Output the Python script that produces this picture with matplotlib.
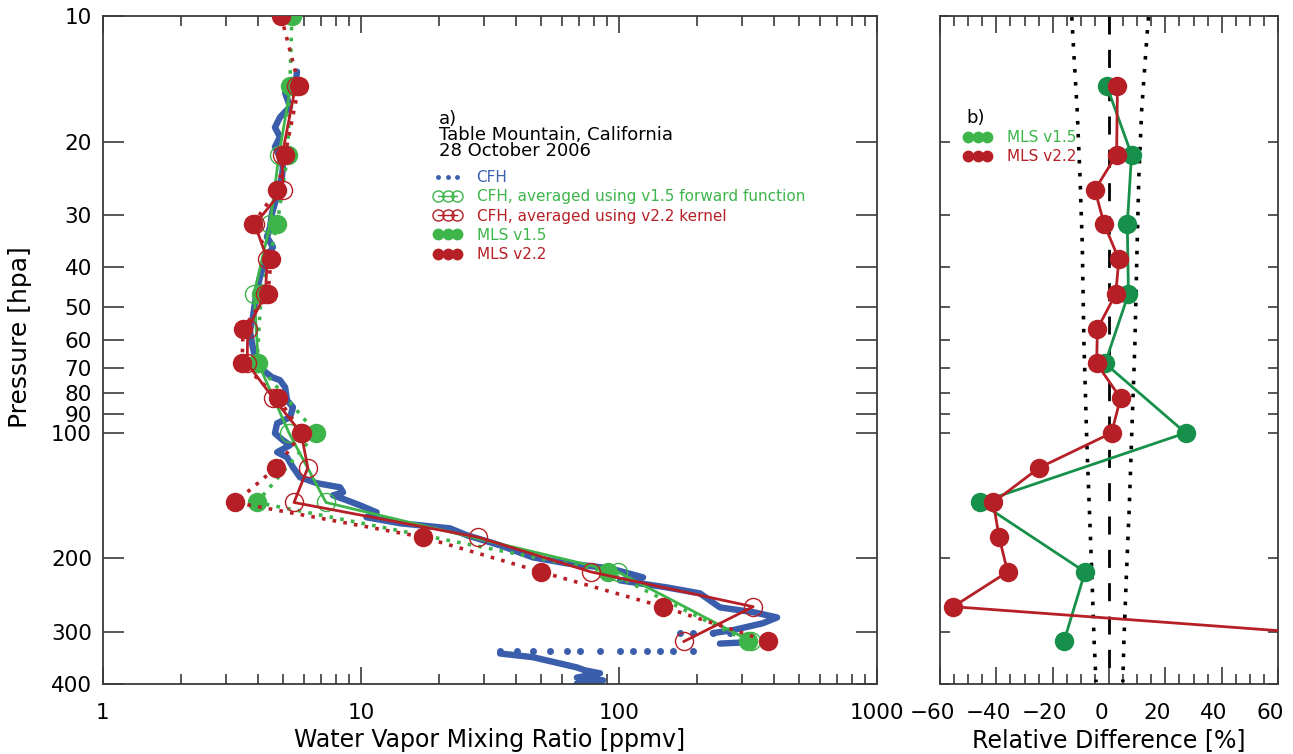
import numpy as np
import matplotlib
matplotlib.use("Agg")
import matplotlib.pyplot as plt
import matplotlib.transforms as mtransforms
from matplotlib.lines import Line2D
from matplotlib.ticker import FixedLocator, FixedFormatter, LogLocator, NullFormatter, MultipleLocator

# ---------------- data ----------------
# CFH profile (dense band), ppmv vs hPa
cfh_x = [5.65, 5.55, 5.08, 5.31, 4.85, 4.64, 4.85, 4.64, 4.85, 4.98, 4.94, 4.77, 4.64, 4.52,
         4.44, 4.32, 4.56, 4.32, 4.17, 4.06, 3.95, 3.88, 3.81, 3.71, 3.78, 3.88, 4.17, 4.52,
         4.85, 5.08, 5.17, 5.45, 5.31, 4.73, 4.64, 4.98, 5.31, 4.73, 5.17, 5.45, 5.80, 6.75,
         8.29, 8.52, 7.79, 8.83, 9.91, 11.5, 10.5, 14.2, 22.1, 25.8, 34.6, 46.4, 62.9, 92.3,
         124, 100.9, 153, 206, 246, 331, 410, 361, 277, 231]
cfh_p = [13.6, 14.8, 15.3, 16.5, 17.5, 18.5, 19.5, 20.6, 21.8, 23.0, 24.3, 26.2, 28.1, 29.7,
         32.1, 33.9, 35.8, 37.9, 40.0, 42.3, 45.5, 48.8, 52.8, 56.7, 60.9, 65.8, 70.7, 73.5,
         74.7, 77.7, 83.5, 86.8, 91.7, 94.8, 100.2, 104.1, 107.0, 111.2, 114.4, 120.9, 127.7, 132.0,
         135.0, 138.8, 141.1, 145.1, 149.1, 155.0, 159.3, 164.7, 169.3, 176.0, 186.0, 198.8, 205.5, 211.2,
         222, 225.7, 234.6, 242.5, 262, 269, 277, 286, 297, 302]
cfh2_x = [246, 302, 331]
cfh2_p = [320, 318, 323]
cfh3_x = [34.6, 46.4, 68.7, 73.8, 84.4, 68.7, 86.7, 68.7]
cfh3_p = [338, 345, 365, 371, 377, 386, 392, 399]
# CFH sparse samples
cfh_sparse_x = [172, 194, 231, 269,
                194, 162, 144, 128, 113, 100.9, 84.4, 70.6, 62.9, 54.0, 46.4, 40.2, 34.6]
cfh_sparse_p = [301, 301, 301, 301,
                334, 334, 334, 334, 334, 334, 334, 334, 334, 334, 334, 334, 334]

# MLS v2.2 and CFH averaged with v2.2 kernel
p22 = [10, 14.7, 21.5, 26.1, 31.6, 38.3, 46.4, 56.2, 68.1, 82.5, 100, 121.2, 146.8, 177.8, 215.4, 261, 316.2]
mls22 = [4.9, 5.75, 5.08, 4.73, 3.81, 4.48, 4.36, 3.49, 3.46, 4.76, 5.91, 4.68, 3.25, 17.4, 49.9, 148, 378]
p22c = [14.7, 21.5, 26.1, 31.6, 38.3, 46.4, 56.2, 68.1, 82.5, 100, 121.2, 146.8, 177.8, 215.4, 261, 316.2]
cfh22 = [5.58, 4.95, 4.98, 3.88, 4.33, 4.26, 3.64, 3.62, 4.57, 5.86, 6.22, 5.50, 28.4, 77.9, 331, 178.6]
diff22 = [3.0, 2.7, -5.0, -1.7, 3.5, 2.4, -4.1, -4.4, 4.1, 0.9, -24.8, -41.1, -39.0, -36.0, -55.3, 112]

# MLS v1.5 and CFH averaged with v1.5 forward function
p15 = [10, 14.7, 21.5, 31.6, 46.4, 68.1, 100, 146.8, 215.4, 316.2]
mls15 = [5.4, 5.30, 5.2, 4.73, 4.1, 3.95, 6.69, 3.95, 90.7, 316]
p15c = [14.7, 21.5, 31.6, 46.4, 68.1, 100, 146.8, 215.4, 316.2]
cfh15 = [5.34, 4.81, 4.44, 3.85, 4.0, 5.26, 7.32, 99, 325]
diff15 = [-0.8, 8.0, 6.5, 6.9, -1.4, 27.2, -45.8, -8.5, -16.0]

# error envelope in panel b
env_p = [10.06, 11.6, 16.8, 24.3, 35.1, 60.9, 104, 150.6, 217, 314, 396]
env_lo = [-13.2, -12.7, -11.3, -10.3, -9.5, -8.9, -7.9, -7.0, -6.1, -5.3, -4.6]
env_hi = [14.0, 13.3, 11.6, 10.6, 10.0, 9.2, 8.0, 7.2, 6.2, 5.3, 4.9]
zero_p = [10, 400]
zero_x = [0, 0]

p_ticks = [10, 20, 30, 40, 50, 60, 70, 80, 90, 100, 200, 300, 400]
x_ticks_a = [1, 10, 100, 1000]
x_ticks_b = [-60, -40, -20, 0, 20, 40, 60]

header_lines = ["a)", "Table Mountain, California", "28 October 2006"]

# ---------------- style ----------------
BLUE = "#3a5eab"
GREEN = "#3db54a"
GREEN_B = "#16904a"
RED = "#b71f26"
SPINE = "#3a3a3a"
FS_TICK = 15.5
FS_LAB = 17
FS_LEG = 11
FS_HEAD = 13

W, H = 1293, 754
fig = plt.figure(figsize=(W / 100, H / 100), dpi=100)

def rect(x0, y0, x1, y1):
    return [x0 / W, 1 - y1 / H, (x1 - x0) / W, (y1 - y0) / H]

axa = fig.add_axes(rect(103, 16, 877, 684))
axb = fig.add_axes(rect(940, 16, 1278, 684))

# ---------------- panel a ----------------
band = dict(color=BLUE, lw=4.6, solid_capstyle="round", solid_joinstyle="round", zorder=2)
axa.plot(cfh_x, cfh_p, **band)
axa.plot(cfh2_x, cfh2_p, **band)
axa.plot(cfh3_x, cfh3_p, **band)
axa.plot(cfh_sparse_x, cfh_sparse_p, "o", color=BLUE, ms=5, mew=0, zorder=2)

dot = (0, (1, 2))
axa.plot(cfh15, p15c, "-", color=GREEN, lw=2, marker="o", ms=13, mfc="none", mec=GREEN, mew=1, zorder=3)
axa.plot(mls15, p15, color=GREEN, lw=2.6, ls=dot, dash_capstyle="butt", zorder=3)
axa.plot(mls15, p15, "o", color=GREEN, ms=14, mew=0, zorder=4)
axa.plot(cfh22, p22c, "-", color=RED, lw=2, marker="o", ms=13, mfc="none", mec=RED, mew=1, zorder=5)
axa.plot(mls22, p22, color=RED, lw=2.6, ls=dot, dash_capstyle="butt", zorder=5)
axa.plot(mls22, p22, "o", color=RED, ms=14, mew=0, zorder=6)

axa.set_xscale("log")
axa.set_yscale("log")
axa.set_xlim(1, 1000)
axa.set_ylim(400, 10)

# ---------------- panel b ----------------
axb.plot(env_lo, env_p, color="black", lw=2.6, ls=(0, (1, 2.6)), dash_capstyle="butt", zorder=2)
axb.plot(env_hi, env_p, color="black", lw=2.6, ls=(0, (1, 2.6)), dash_capstyle="butt", zorder=2)
axb.plot(zero_x, zero_p, color="black", lw=2.0, ls=(0, (6.5, 5.5)), dash_capstyle="butt", zorder=2)
axb.plot(diff15, p15c, "-o", color=GREEN_B, lw=2, ms=14, mew=0, zorder=3)
axb.plot(diff22, p22c, "-o", color=RED, lw=2, ms=14, mew=0, zorder=4)
axb.set_yscale("log")
axb.set_xlim(-60, 60)
axb.set_ylim(400, 10)

# ---------------- axes styling ----------------
for ax in (axa, axb):
    for s in ax.spines.values():
        s.set_color(SPINE)
        s.set_linewidth(1.3)
    ax.yaxis.set_major_locator(FixedLocator(p_ticks))
    ax.yaxis.set_minor_locator(FixedLocator([]))
    ax.tick_params(which="both", direction="in", top=True, right=True, color=SPINE, width=1.2,
                   labelsize=FS_TICK)
    ax.tick_params(axis="x", which="major", length=12, pad=14)
    ax.tick_params(axis="x", which="minor", length=7)

axa.yaxis.set_major_formatter(FixedFormatter([str(v) for v in p_ticks]))
axa.tick_params(axis="y", which="major", length=15, pad=8)
axa.xaxis.set_major_locator(FixedLocator(x_ticks_a))
axa.xaxis.set_major_formatter(FixedFormatter([str(v) for v in x_ticks_a]))
axa.xaxis.set_minor_locator(LogLocator(base=10, subs=np.arange(2, 10)))
axa.xaxis.set_minor_formatter(NullFormatter())

axb.yaxis.set_major_formatter(NullFormatter())
axb.tick_params(axis="y", which="major", length=7)
axb.xaxis.set_major_locator(FixedLocator(x_ticks_b))
axb.xaxis.set_major_formatter(FixedFormatter([str(v).replace("-", "\u2212") for v in x_ticks_b]))
axb.xaxis.set_minor_locator(MultipleLocator(5))
shift = mtransforms.ScaledTranslation(-8 / 100, 0, fig.dpi_scale_trans)
for lab in axb.get_xticklabels():
    lab.set_transform(lab.get_transform() + shift)

axa.set_xlabel("Water Vapor Mixing Ratio [ppmv]", fontsize=FS_LAB, labelpad=3)
axb.set_xlabel("Relative Difference [%]", fontsize=FS_LAB, labelpad=3)
axa.set_ylabel("Pressure [hpa]", fontsize=18)
axa.yaxis.set_label_coords(-0.092, 0.52)

# ---------------- annotations / legends ----------------
for txt, yb in zip(header_lines, [124, 140, 156]):
    fig.text(439 / W, 1 - yb / H, txt, fontsize=FS_HEAD, ha="left", va="baseline", color="black")

h_cfh = Line2D([], [], ls="none", marker="o", color=BLUE, ms=3.5, mew=0)
h_c15 = Line2D([], [], ls="-", lw=1, marker="o", color=GREEN, ms=8, mfc="none", mew=1)
h_c22 = Line2D([], [], ls="-", lw=1, marker="o", color=RED, ms=8, mfc="none", mew=1)
h_m15 = Line2D([], [], ls="none", marker="o", color=GREEN, ms=8.5, mew=0)
h_m22 = Line2D([], [], ls="none", marker="o", color=RED, ms=8.5, mew=0)
labels = ["CFH", "CFH, averaged using v1.5 forward function", "CFH, averaged using v2.2 kernel",
          "MLS v1.5", "MLS v2.2"]
leg = axa.legend([h_cfh, h_c15, h_c22, h_m15, h_m22], labels, numpoints=3, frameon=False,
                 fontsize=FS_LEG, loc="upper left", bbox_to_anchor=(433 / W, 1 - 170 / H),
                 bbox_transform=fig.transFigure, handlelength=1.9, handletextpad=0.95,
                 labelspacing=0.28, borderpad=0, borderaxespad=0)
for t, c in zip(leg.get_texts(), [BLUE, GREEN, RED, GREEN, RED]):
    t.set_color(c)

fig.text(966 / W, 1 - 123 / H, "b)", fontsize=FS_HEAD, ha="left", va="baseline")
legb = axb.legend([h_m15, h_m22], ["MLS v1.5", "MLS v2.2"], numpoints=3, frameon=False,
                  fontsize=FS_LEG, loc="upper left", bbox_to_anchor=(963 / W, 1 - 130 / H),
                  bbox_transform=fig.transFigure, handlelength=1.9, handletextpad=0.95,
                  labelspacing=0.28, borderpad=0, borderaxespad=0)
for t, c in zip(legb.get_texts(), [GREEN, RED]):
    t.set_color(c)

fig.savefig("out.png", dpi=100)
